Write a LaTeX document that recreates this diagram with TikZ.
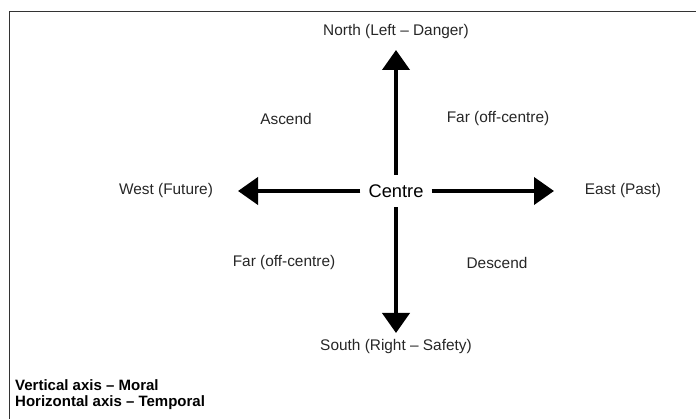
\documentclass[tikz,border=0pt]{standalone}
\usepackage{fontspec}
\setmainfont{Liberation Sans}
\usetikzlibrary{arrows.meta,positioning}

\begin{document}
\begin{tikzpicture}[x=1pt,y=-1pt,
	axis/.style={line width=4pt,-{Triangle[length=20pt,width=27pt]}},
	lbl/.style={font=\fontsize{15.4}{18}\selectfont,text=black!85},
	legend/.style={font=\fontsize{15}{18}\selectfont\bfseries,anchor=west,inner sep=0pt}]
		\useasboundingbox (0,0) rectangle (696,419);
		\draw[black!80,line width=1pt] (9,419) -- (9,12) -- (696,12);
		\node[font=\fontsize{18.3}{22}\selectfont,minimum height=32pt,inner xsep=8pt] (centre) at (396,191) {Centre};
		\coordinate (n_tip) at (396,50);
		\coordinate (s_tip) at (396,333);
		\coordinate (w_tip) at (238,191);
		\coordinate (e_tip) at (554,191);
		\node[lbl] (north) at (396,32) {North (Left -- Danger)};
		\node[lbl] (south) at (396,347) {South (Right -- Safety)};
		\node[lbl] (west) at (166,191) {West (Future)};
		\node[lbl] (east) at (623,191) {East (Past)};
		\node[lbl] (ascend) at (286,119) {Ascend};
		\node[lbl] (far_ne) at (498,119) {Far (off-centre)};
		\node[lbl] (far_sw) at (284,263) {Far (off-centre)};
		\node[lbl] (descend) at (497,263) {Descend};
		\node[legend] (vert) at (15,385) {Vertical axis -- Moral};
		\node[legend] (horiz) at (15,403) {Horizontal axis -- Temporal};
		\path[axis]
			(centre) edge (n_tip)
			(centre) edge (s_tip)
			(centre) edge (w_tip)
			(centre) edge (e_tip);
	\end{tikzpicture}
\end{document}
